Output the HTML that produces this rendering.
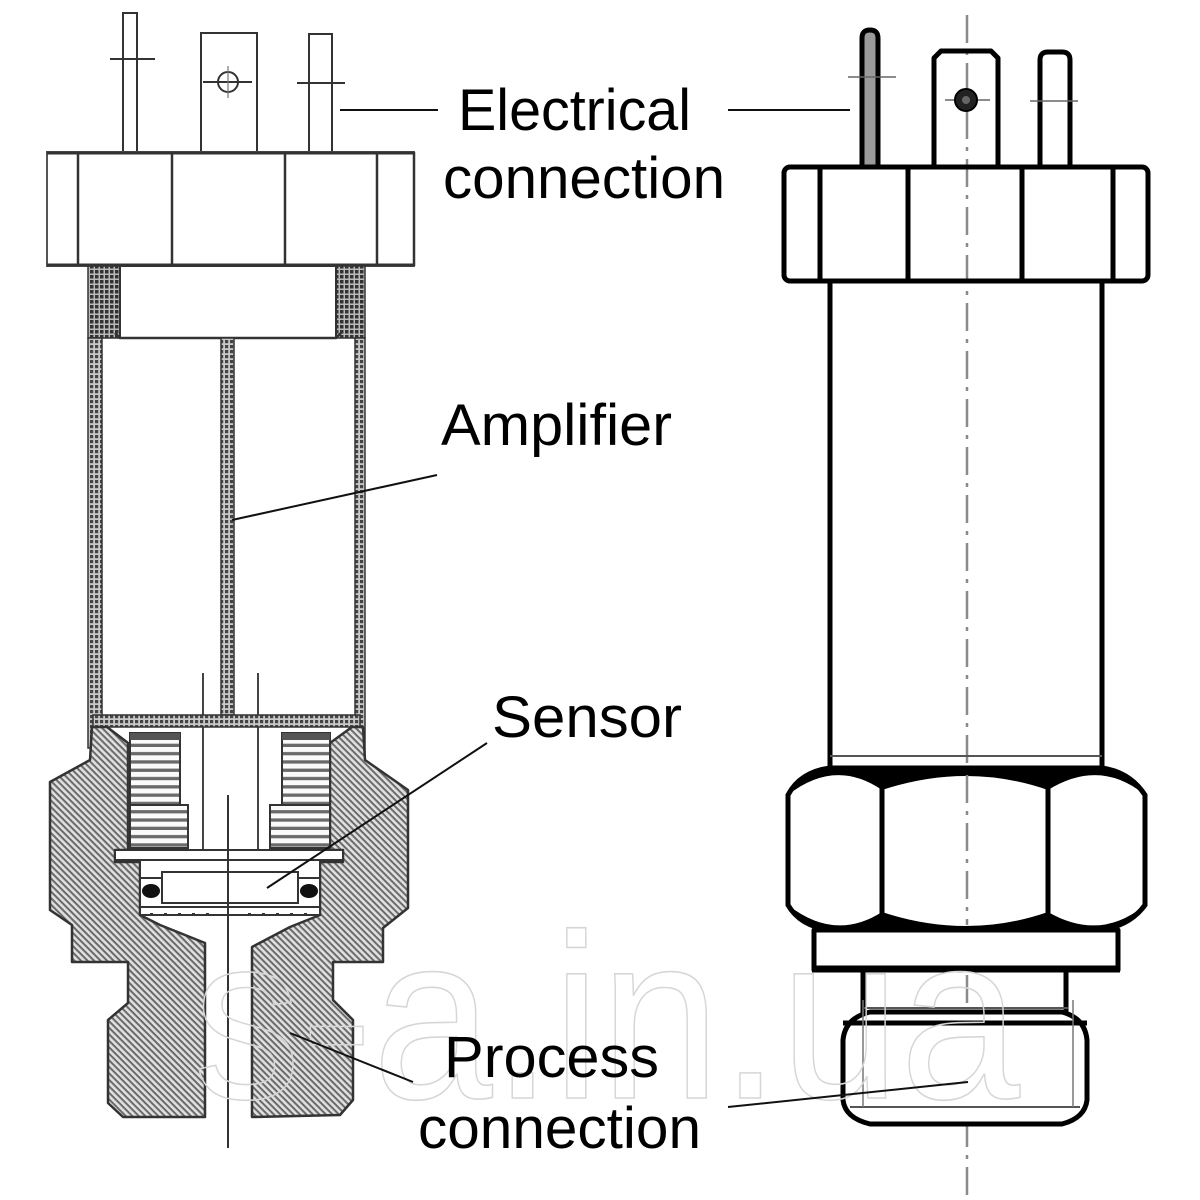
<!DOCTYPE html>
<html>
<head>
<meta charset="utf-8">
<style>
  html, body { margin: 0; padding: 0; background: #ffffff; }
  svg { display: block; }
  text.lbl { font-family: "Liberation Sans", Arial, sans-serif; font-size: 58px; fill: #000; }
  text.wm { font-family: "Liberation Sans", Arial, sans-serif; font-size: 235px; fill: none; stroke: #d6d6d6; stroke-width: 1.6; }
</style>
</head>
<body>
<svg width="1200" height="1200" viewBox="0 0 1200 1200" xmlns="http://www.w3.org/2000/svg">
  <defs>
    <pattern id="hatch" patternUnits="userSpaceOnUse" width="10" height="4.6" patternTransform="rotate(45)">
      <rect x="0" y="0" width="10" height="4.6" fill="#e0e0e0"/>
      <rect x="0" y="0" width="10" height="2" fill="#6a6a6a"/>
    </pattern>
    <pattern id="stip" patternUnits="userSpaceOnUse" width="5" height="5">
      <rect x="0" y="0" width="5" height="5" fill="#c8c8c8"/>
      <rect x="0" y="0" width="3.2" height="3.2" fill="#444"/>
    </pattern>
    <pattern id="stipDark" patternUnits="userSpaceOnUse" width="5" height="5">
      <rect x="0" y="0" width="5" height="5" fill="#bbb"/>
      <rect x="0" y="0" width="3.5" height="3.5" fill="#333"/>
    </pattern>
    <pattern id="hlines" patternUnits="userSpaceOnUse" width="10" height="8.3">
      <rect x="0" y="0" width="10" height="8.3" fill="#fafafa"/>
      <rect x="0" y="5" width="10" height="3.3" fill="#6a6a6a"/>
    </pattern>
  </defs>

  <!-- ================= LEFT DRAWING (section) ================= -->
  <g stroke="#333" stroke-width="2" fill="none">
    <rect x="123" y="13" width="14" height="139"/>
    <line x1="110" y1="59" x2="155" y2="59"/>
    <rect x="201" y="33" width="56" height="119"/>
    <circle cx="228" cy="82" r="10"/>
    <line x1="203" y1="82" x2="252" y2="82"/>
    <line x1="228" y1="66" x2="228" y2="98" stroke-width="1.2" stroke="#777"/>
    <rect x="309" y="34" width="23" height="118"/>
    <line x1="297" y1="83" x2="345" y2="83"/>

    <rect x="47" y="152" width="367" height="114" stroke="#555"/>
    <line x1="47" y1="153" x2="414" y2="153" stroke-width="3"/>
    <line x1="47" y1="265" x2="414" y2="265" stroke-width="3"/>
    <line x1="78" y1="152" x2="78" y2="266" stroke-width="2.5"/>
    <line x1="172" y1="152" x2="172" y2="266" stroke-width="2.5"/>
    <line x1="285" y1="152" x2="285" y2="266" stroke-width="2.5"/>
    <line x1="377" y1="152" x2="377" y2="266" stroke-width="2.5"/>
    <line x1="414" y1="152" x2="414" y2="266" stroke-width="2.5"/>
  </g>

  <rect x="88" y="266" width="32" height="72" fill="url(#stipDark)" stroke="#333" stroke-width="1.5"/>
  <rect x="336" y="266" width="29" height="72" fill="url(#stipDark)" stroke="#333" stroke-width="1.5"/>
  <rect x="120" y="266" width="216" height="72" fill="#fff" stroke="#333" stroke-width="2"/>
  <path d="M115 333 L120 338 L336 338 L341 333" fill="none" stroke="#333" stroke-width="2.5"/>
  <rect x="88" y="338" width="14" height="410" fill="url(#stip)" stroke="#333" stroke-width="1.5"/>
  <rect x="355" y="338" width="10" height="415" fill="url(#stip)" stroke="#333" stroke-width="1.5"/>
  <rect x="221" y="338" width="13" height="377" fill="url(#stip)" stroke="#333" stroke-width="1.5"/>
  <line x1="203" y1="673" x2="203" y2="850" stroke="#444" stroke-width="2"/>
  <line x1="258" y1="673" x2="258" y2="850" stroke="#444" stroke-width="2"/>
  <rect x="93" y="715" width="267" height="12" fill="url(#stip)" stroke="#333" stroke-width="1.5"/>

  <path d="M92 727 L107 727 L128 743 L128 850 L115 850 L115 862 L140 862 L140 915 L160 925 L205 943 L205 1117 L123 1117 L108 1103 L108 1020 L128 1003 L128 962 L72 962 L72 925 L50 910 L50 782 L90 760 Z"
        fill="url(#hatch)" stroke="#333" stroke-width="2.5" stroke-linejoin="round"/>
  <path d="M352 727 L363 727 L365 760 L408 790 L408 908 L383 928 L383 962 L333 962 L333 1000 L353 1020 L353 1100 L340 1115 L252 1117 L252 947 L290 927 L320 915 L320 862 L343 862 L343 850 L330 850 L330 743 Z"
        fill="url(#hatch)" stroke="#333" stroke-width="2.5" stroke-linejoin="round"/>

  <rect x="130" y="733" width="50" height="72" fill="url(#hlines)" stroke="#333" stroke-width="2"/>
  <rect x="130" y="805" width="58" height="43" fill="url(#hlines)" stroke="#333" stroke-width="2"/>
  <rect x="130" y="733" width="50" height="7" fill="#555"/>
  <rect x="282" y="733" width="48" height="72" fill="url(#hlines)" stroke="#333" stroke-width="2"/>
  <rect x="270" y="805" width="60" height="43" fill="url(#hlines)" stroke="#333" stroke-width="2"/>
  <rect x="282" y="733" width="48" height="7" fill="#555"/>

  <rect x="115" y="850" width="228" height="10" fill="#fff" stroke="#333" stroke-width="2"/>
  <rect x="140" y="860" width="180" height="55" fill="#fff" stroke="#333" stroke-width="2"/>
  <rect x="162" y="872" width="136" height="31" fill="#fff" stroke="#333" stroke-width="2"/>
  <line x1="140" y1="907" x2="320" y2="907" stroke="#333" stroke-width="2"/>
  <line x1="140" y1="878" x2="162" y2="878" stroke="#333" stroke-width="2"/>
  <line x1="298" y1="878" x2="320" y2="878" stroke="#333" stroke-width="2"/>
  <ellipse cx="151" cy="891" rx="9" ry="7" fill="#111"/>
  <ellipse cx="309" cy="891" rx="9" ry="7" fill="#111"/>
  <g fill="#333">
    <rect x="150" y="913" width="3" height="3"/><rect x="164" y="913" width="3" height="3"/>
    <rect x="178" y="913" width="3" height="3"/><rect x="192" y="913" width="3" height="3"/>
    <rect x="206" y="913" width="3" height="3"/><rect x="248" y="913" width="3" height="3"/>
    <rect x="262" y="913" width="3" height="3"/><rect x="276" y="913" width="3" height="3"/>
    <rect x="290" y="913" width="3" height="3"/><rect x="304" y="913" width="3" height="3"/>
  </g>
  <line x1="228" y1="795" x2="228" y2="1148" stroke="#333" stroke-width="2"/>

  <!-- ================= RIGHT DRAWING (view) ================= -->
  <line x1="967" y1="15" x2="967" y2="1195" stroke="#8a8a8a" stroke-width="2.5" stroke-dasharray="28 8 4 8"/>

  <g stroke="#000" stroke-width="5" fill="none" stroke-linejoin="round">
    <path d="M862 165 L862 38 Q862 30 870 30 Q878 30 878 38 L878 165" fill="#9a9a9a"/>
    <path d="M934 165 L934 58 L941 51 L991 51 L998 58 L998 165"/>
    <path d="M1040 165 L1040 60 Q1040 52 1048 52 L1062 52 Q1070 52 1070 60 L1070 165"/>
    <rect x="784" y="167" width="364" height="114" rx="6"/>
    <line x1="820" y1="167" x2="820" y2="281"/>
    <line x1="908" y1="167" x2="908" y2="281"/>
    <line x1="1022" y1="167" x2="1022" y2="281"/>
    <line x1="1113" y1="167" x2="1113" y2="281"/>
    <line x1="830" y1="281" x2="830" y2="770"/>
    <line x1="1102" y1="281" x2="1102" y2="770"/>
  </g>
  <g stroke="#666" stroke-width="1.5">
    <line x1="848" y1="77" x2="896" y2="77"/>
    <line x1="945" y1="100" x2="990" y2="100"/>
    <line x1="1030" y1="101" x2="1078" y2="101"/>
  </g>
  <circle cx="966" cy="100" r="11" fill="#222" stroke="#000" stroke-width="2"/>
  <circle cx="966" cy="100" r="4" fill="#666"/>
  <line x1="830" y1="756" x2="1102" y2="756" stroke="#555" stroke-width="2"/>

  <g stroke="#000" stroke-width="5" fill="#fff" stroke-linejoin="round">
    <rect x="814" y="930" width="304" height="40"/>
    <line x1="863" y1="970" x2="863" y2="1013"/>
    <line x1="1066" y1="970" x2="1066" y2="1013"/>
    <path d="M870 1012 L1062 1012 Q1085 1018 1087 1040 L1087 1100 Q1085 1118 1062 1124 L870 1124 Q845 1118 843 1100 L843 1040 Q845 1018 870 1012 Z"/>
    <line x1="843" y1="1023" x2="1087" y2="1023"/>
  </g>
  <line x1="812" y1="969" x2="1120" y2="969" stroke="#000" stroke-width="7"/>
  <line x1="850" y1="1107" x2="1080" y2="1107" stroke="#555" stroke-width="2"/>
  <line x1="863" y1="1000" x2="863" y2="1107" stroke="#777" stroke-width="1.5"/>
  <line x1="1073" y1="1000" x2="1073" y2="1107" stroke="#777" stroke-width="1.5"/>
  <line x1="862" y1="1008" x2="1068" y2="1008" stroke="#555" stroke-width="2"/>

  <path d="M830 768 L1102 768 Q1130 772 1145 795 L1145 905 Q1130 926 1100 930 L830 930 Q800 926 788 905 L788 795 Q800 772 830 768 Z"
        fill="#fff" stroke="#000" stroke-width="5"/>
  <path d="M788 795 Q800 772 830 768 L1102 768 Q1130 772 1145 795 Q1100 758 1048 790 Q967 762 882 790 Q835 758 788 795 Z" fill="#000"/>
  <path d="M788 905 Q800 926 830 930 L1102 930 Q1130 926 1145 905 Q1100 942 1048 912 Q967 940 882 912 Q835 942 788 905 Z" fill="#000"/>
  <line x1="882" y1="785" x2="882" y2="915" stroke="#000" stroke-width="5"/>
  <line x1="1048" y1="785" x2="1048" y2="915" stroke="#000" stroke-width="5"/>
  <line x1="967" y1="775" x2="967" y2="925" stroke="#8a8a8a" stroke-width="2.5" stroke-dasharray="28 8 4 8"/>

  <!-- watermark -->
  <text class="wm" x="193" y="1098" textLength="827" lengthAdjust="spacingAndGlyphs">s-a.in.ua</text>

  <!-- leaders -->
  <g stroke="#111" stroke-width="2">
    <line x1="340" y1="110" x2="438" y2="110"/>
    <line x1="728" y1="110" x2="850" y2="110"/>
    <line x1="232" y1="520" x2="437" y2="475"/>
    <line x1="267" y1="888" x2="487" y2="743"/>
    <line x1="290" y1="1033" x2="413" y2="1082"/>
    <line x1="728" y1="1107" x2="968" y2="1082"/>
  </g>

  <!-- labels -->
  <text class="lbl" x="458" y="130" textLength="233" lengthAdjust="spacingAndGlyphs">Electrical</text>
  <text class="lbl" x="443" y="198" textLength="282" lengthAdjust="spacingAndGlyphs">connection</text>
  <text class="lbl" x="441" y="445" textLength="231" lengthAdjust="spacingAndGlyphs">Amplifier</text>
  <text class="lbl" x="492" y="737" textLength="190" lengthAdjust="spacingAndGlyphs">Sensor</text>
  <text class="lbl" x="444" y="1077" textLength="215" lengthAdjust="spacingAndGlyphs">Process</text>
  <text class="lbl" x="418" y="1148" textLength="283" lengthAdjust="spacingAndGlyphs">connection</text>
</svg>
</body>
</html>
